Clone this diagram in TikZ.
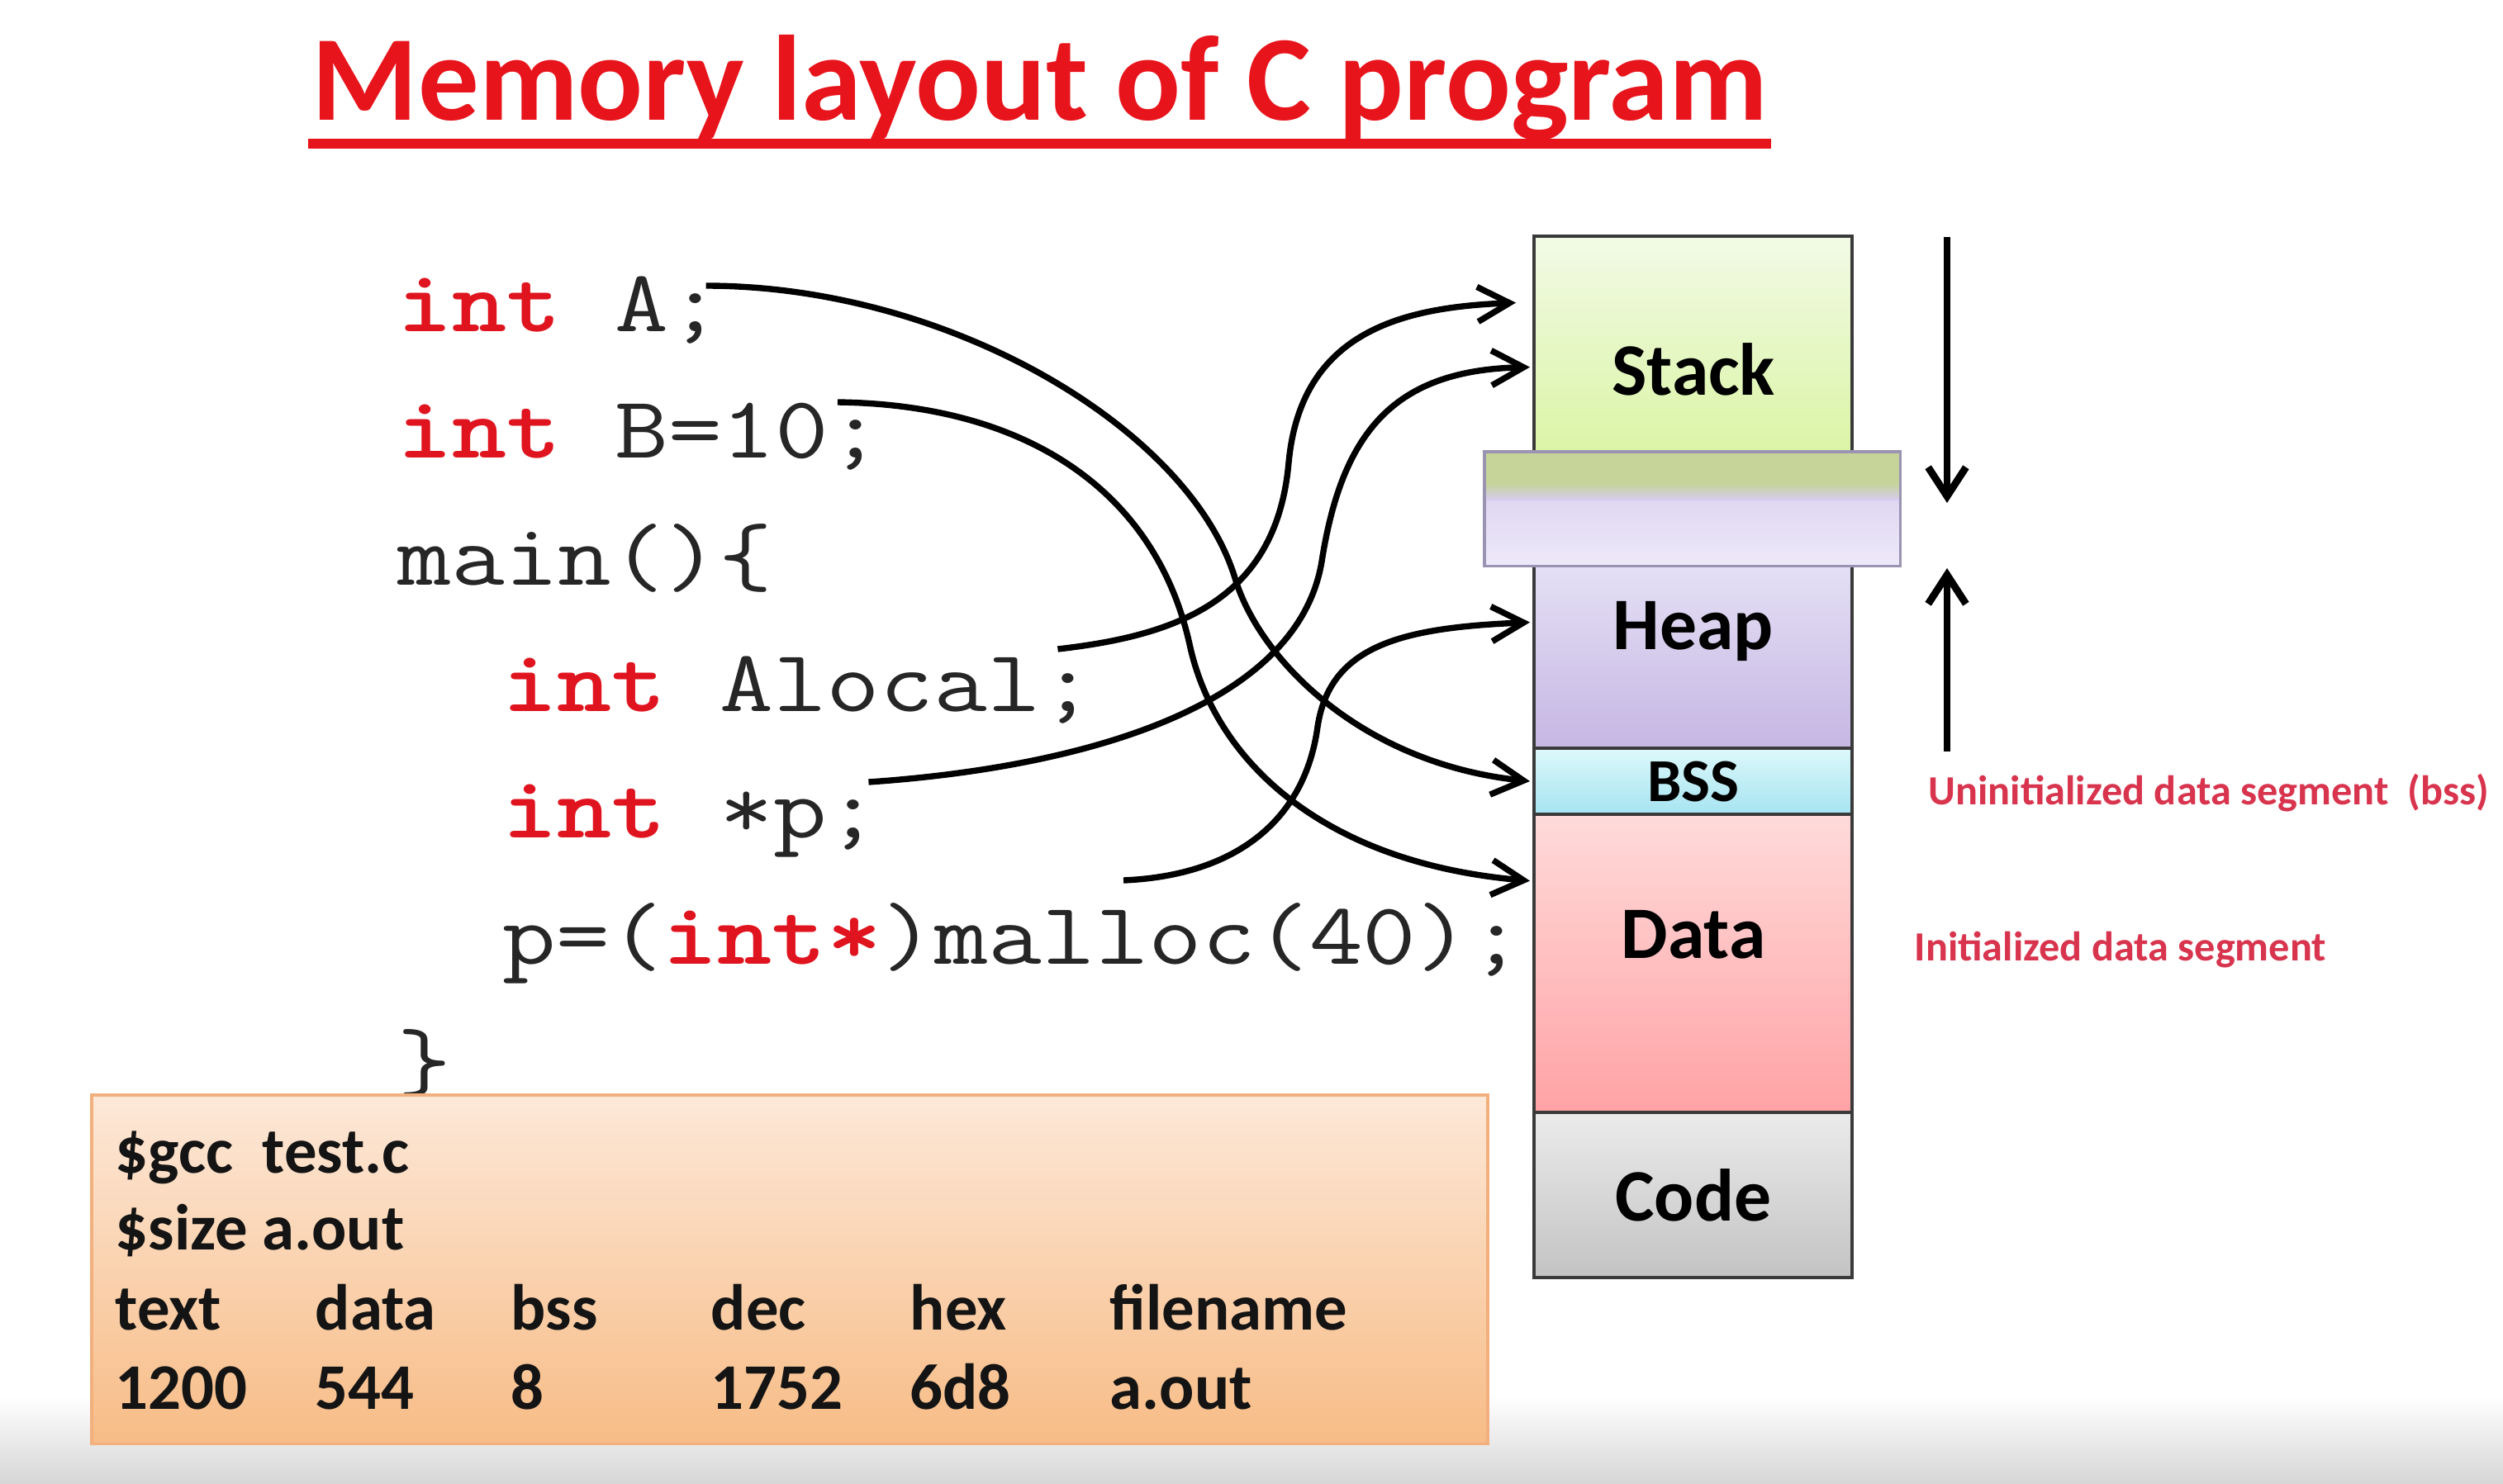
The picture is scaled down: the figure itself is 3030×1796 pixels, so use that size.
\documentclass[tikz,border=0pt]{standalone}
\usepackage{fontspec}
\setmainfont{Carlito}
\newfontfamily\codefont[FakeStretch=1.18]{Latin Modern Mono}
\newfontfamily\codebold[FakeStretch=1.18]{lmmonolt10-bold.otf}
\usetikzlibrary{arrows.meta}
\definecolor{titlered}{HTML}{E8141C}
\definecolor{kwred}{HTML}{E0141E}
\definecolor{codegray}{HTML}{262626}
\definecolor{labred}{HTML}{D8344E}
\definecolor{segline}{HTML}{3A3A3A}
\definecolor{stackT}{HTML}{F2FAE6}
\definecolor{stackB}{HTML}{DBF5A6}
\definecolor{heapT}{HTML}{E4DFF5}
\definecolor{heapB}{HTML}{C6B7E3}
\definecolor{bssT}{HTML}{DDF8FB}
\definecolor{bssB}{HTML}{A6E4F1}
\definecolor{dataT}{HTML}{FFDADA}
\definecolor{dataB}{HTML}{FFA3A5}
\definecolor{codeT}{HTML}{EBEBEB}
\definecolor{codeB}{HTML}{C3C3C3}
\definecolor{gapT}{HTML}{D4CAEC}
\definecolor{gapB}{HTML}{EEE9F9}
\definecolor{gapLine}{HTML}{9A94B2}
\definecolor{gapGreen}{HTML}{C6D499}
\definecolor{gapLav}{HTML}{D5CCEE}
\definecolor{boxLine}{HTML}{F2B07E}
\definecolor{boxT}{HTML}{FDE8D8}
\definecolor{boxB}{HTML}{F7BC86}
\newcommand\kwd[1]{{\codebold\color{kwred}#1}}
\begin{document}
\begin{tikzpicture}[x=0.01cm,y=-0.01cm,
  codeline/.style={anchor=base west, inner sep=0pt, font=\codefont\fontsize{30.3}{36}\selectfont, text=codegray},
  seg/.style={draw=segline, line width=1.1pt, anchor=north west, inner sep=0pt, outer sep=0pt, minimum width=3.85cm},
  seglab/.style={anchor=base, inner sep=0pt, font=\bfseries\fontsize{25.5}{30}\selectfont, text=black},
  rlabel/.style={anchor=base west, inner sep=0pt, font=\bfseries\fontsize{14.3}{17}\selectfont, text=labred},
  cmd/.style={anchor=base west, inner sep=0pt, font=\bfseries\fontsize{22.4}{26}\selectfont, text=black!92},
  arr/.style={line width=2.1pt, -{Straight Barb[length=11pt,width=12pt,line width=2.1pt]}},
  varr/.style={line width=2.5pt, -{Straight Barb[length=10pt,width=13pt,line width=2.5pt]}}]
\path[use as bounding box, fill=white] (0,0) rectangle (3030,1796);
\shade[top color=white, bottom color=black!16] (0,1690) rectangle (3030,1796);

% title
\node[anchor=base west, inner sep=0pt, font=\bfseries\fontsize{41.8}{49}\selectfont, text=titlered] (title) at (377,145) {Memory layout of C program};
\draw[titlered, line width=3.2pt] ([shift={(-4,29)}]title.base west) -- ([shift={(4,29)}]title.base east);

% code
\node[codeline] (cA) at (481,401) {\kwd{int} A;};
\node[codeline] (cB) at (481,554) {\kwd{int} B=10;};
\node[codeline] (cMain) at (481,708) {main()\{};
\node[codeline] (cAl) at (608,861) {\kwd{int} Alocal;};
\node[codeline] (cP) at (608,1014) {\kwd{int} *p;};
\node[codeline] (cM) at (608,1167) {p=(\kwd{int*})malloc(40);};
\node[codeline] (cEnd) at (481,1320) {\}};

% memory segments
\node[seg, minimum height=2.61cm, top color=stackT, bottom color=stackB] (stack) at (1857,286) {};
\node[seg, minimum height=2.21cm, top color=heapT, bottom color=heapB] (heap) at (1857,685) {};
\node[seg, minimum height=0.80cm, top color=bssT, bottom color=bssB] (bss) at (1857,906) {};
\node[seg, minimum height=3.61cm, top color=dataT, bottom color=dataB] (data) at (1857,986) {};
\node[seg, minimum height=2.00cm, top color=codeT, bottom color=codeB] (code) at (1857,1347) {};
\node[draw=gapLine, line width=0.9pt, anchor=north west, inner sep=0pt, outer sep=0pt, minimum width=5.03cm, minimum height=1.38cm, top color=gapT, bottom color=gapB] (gap) at (1797,547) {};
\fill[gapGreen] ([shift={(1,1)}]gap.north west) rectangle ([shift={(-1,38)}]gap.north east);
\shade[top color=gapGreen, bottom color=gapLav] ([shift={(1,38)}]gap.north west) rectangle ([shift={(-1,58)}]gap.north east);
\draw[draw=gapLine, line width=0.9pt] (gap.north west) rectangle (gap.south east);

\node[seglab] (stackL) at (2050,478) {Stack};
\node[seglab] (heapL) at (2050,786) {Heap};
\node[seglab, font=\bfseries\fontsize{21}{25}\selectfont] (bssL) at (2050,970) {BSS};
\node[seglab] (dataL) at (2050,1160) {Data};
\node[seglab] (codeL) at (2050,1478) {Code};

% growth arrows
\coordinate (dTop) at (2357,287);
\coordinate (dBot) at (2357,609);
\coordinate (uBot) at (2357,910);
\coordinate (uTop) at (2357,688);
\draw[varr] (dTop) -- (dBot);
\draw[varr] (uBot) -- (uTop);

% right labels
\node[rlabel] (ubss) at (2334,974) {Uninitialized data segment\ \ (bss)};
\node[rlabel] (idata) at (2317,1163) {Initialized data segment};

% mapping arrows
\draw[arr] ([shift={(-20,-55)}]cA.base east) .. controls (1150,346) and (1440,520) .. (1495,700)
   .. controls (1525,800) and (1650,925) .. ([shift={(-5,0)}]bss.west);
\draw[arr] ([shift={(-55,-67)}]cB.base east) .. controls (1250,490) and (1400,600) .. (1440,780)
   .. controls (1470,920) and (1600,1045) .. ([shift={(-5,-100)}]data.west);
\draw[arr] ([shift={(-45,-75)}]cAl.base east) .. controls (1420,770) and (1545,730) .. (1560,560)
   .. controls (1575,400) and (1700,372) .. ([shift={(-22,-50)}]stack.west);
\draw[arr] ([shift={(-15,-67)}]cP.base east) .. controls (1300,930) and (1570,860) .. (1600,680)
   .. controls (1625,520) and (1690,448) .. ([shift={(-5,28)}]stack.west);
\draw[arr] ([shift={(752,-101)}]cM.base west) .. controls (1500,1060) and (1580,990) .. (1595,880)
   .. controls (1610,780) and (1700,760) .. ([shift={(-5,-42)}]heap.west);

% command box
\node[anchor=north west, inner sep=0pt, outer sep=0pt, minimum width=16.89cm, minimum height=4.22cm, draw=boxLine, line width=1pt, top color=boxT, bottom color=boxB] (cmdbox) at (111,1326) {};
\node[cmd] (l1) at (139,1420) {\$gcc\ \ test.c};
\node[cmd] (l2) at (139,1513) {\$size a.out};
\node[cmd] (h1) at (139,1610) {text};
\node[cmd] (h2) at (381,1610) {data};
\node[cmd] (h3) at (618,1610) {bss};
\node[cmd] (h4) at (860,1610) {dec};
\node[cmd] (h5) at (1101,1610) {hex};
\node[cmd] (h6) at (1343,1610) {filename};
\node[cmd] (v1) at (139,1706) {1200};
\node[cmd] (v2) at (381,1706) {544};
\node[cmd] (v3) at (618,1706) {8};
\node[cmd] (v4) at (860,1706) {1752};
\node[cmd] (v5) at (1101,1706) {6d8};
\node[cmd] (v6) at (1343,1706) {a.out};
\end{tikzpicture}
\end{document}
